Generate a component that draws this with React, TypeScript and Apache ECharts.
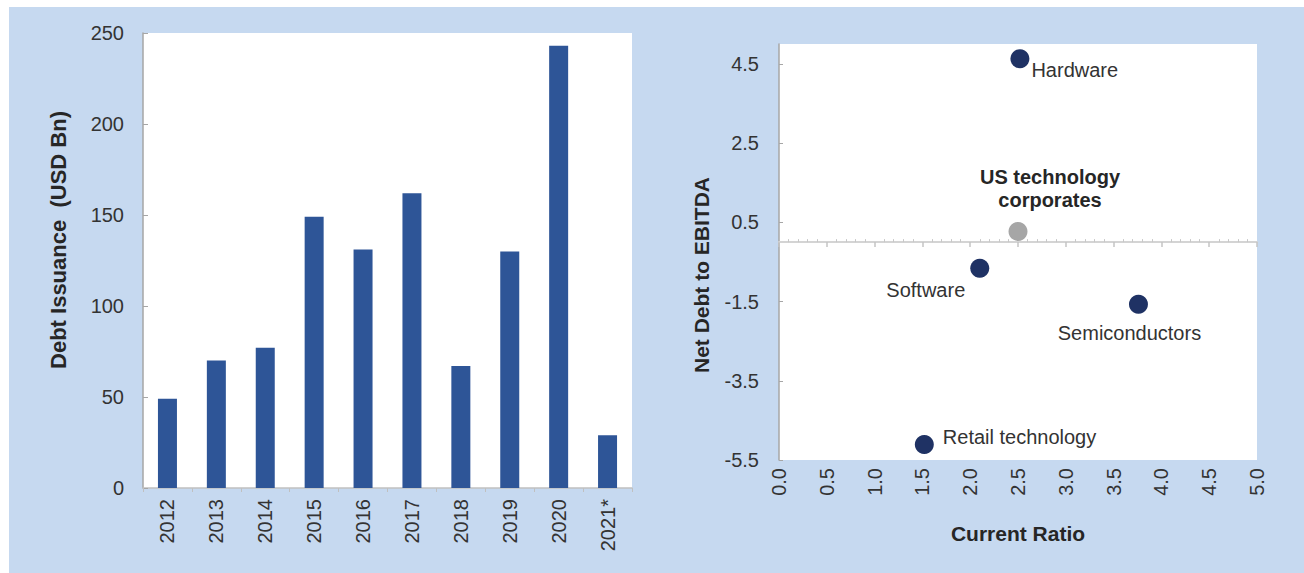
import React, { useEffect, useRef } from "react";
import * as echarts from "echarts";

// ---- data ----
const years = ["2012", "2013", "2014", "2015", "2016", "2017", "2018", "2019", "2020", "2021*"];
const debtIssuance = [49, 70, 77, 149, 131, 162, 67, 130, 243, 29];

const sectors = ["Hardware", "US technology\ncorporates", "Software", "Semiconductors", "Retail technology"];
const currentRatio = [2.52, 2.5, 2.1, 3.76, 1.52];
const netDebtToEbitda = [4.63, 0.27, -0.66, -1.57, -5.11];
const netDebtTicks = [-5.5, -3.5, -1.5, 0.5, 2.5, 4.5];

const leftAxisTitle = "Debt Issuance  (USD Bn)";
const rightAxisTitle = "Net Debt to EBITDA";

const FONT = "'Liberation Sans', Arial, sans-serif";
const TXT = "#333333";

const labelStyles: any[] = [
  { position: "right", distance: 2, offset: [0, 11], color: "#333333" },
  { position: "top", distance: 10, offset: [32, 0], color: "#262626", fontWeight: "bold", align: "center", lineHeight: 23 },
  { position: "left", distance: 5, offset: [0, 22], color: "#333333" },
  { position: "bottom", distance: 5, offset: [-9, 4], color: "#333333" },
  { position: "right", distance: 5, offset: [4, -8], color: "#333333" },
];
const markerColors = ["#1f3264", "#a6a6a6", "#1f3264", "#1f3264", "#1f3264"];

export default function App() {
  const ref = useRef<HTMLDivElement>(null);
  useEffect(() => {
    if (!ref.current) return;
    const chart = echarts.init(ref.current, null, { renderer: "svg" });
    const scatterData = sectors.map((name, i) => ({
      name,
      value: [currentRatio[i], netDebtToEbitda[i]],
      itemStyle: { color: markerColors[i], opacity: 1 },
      label: { show: true, formatter: name, fontSize: 20, fontFamily: FONT, ...labelStyles[i] },
    }));
    const nameStyle = { fontSize: 21, fontWeight: "bold", fill: "#262626", fontFamily: FONT, align: "center", verticalAlign: "middle" };
    chart.setOption({
      animation: false,
      textStyle: { fontFamily: FONT },
      graphic: [
        { type: "text", x: 58, y: 240, rotation: Math.PI / 2, style: { text: leftAxisTitle, ...nameStyle, fontSize: 22 } },
        { type: "text", x: 701, y: 275, rotation: Math.PI / 2, style: { text: rightAxisTitle, ...nameStyle } },
      ],
      grid: [
        { left: 143, top: 33, width: 489, height: 455, show: true, backgroundColor: "#ffffff", borderWidth: 0 },
        { left: 779, top: 44, width: 478, height: 416, show: true, backgroundColor: "#ffffff", borderWidth: 0 },
      ],
      xAxis: [
        {
          type: "category",
          gridIndex: 0,
          data: years,
          axisLine: { lineStyle: { color: "#c0c0c0", width: 1.5 } },
          axisTick: { show: true, alignWithLabel: false, length: 4, lineStyle: { color: "#c0c0c0" } },
          axisLabel: { rotate: 90, margin: 11, fontSize: 20, color: TXT, fontFamily: FONT },
        },
        {
          type: "value",
          gridIndex: 1,
          position: "bottom",
          min: 0,
          max: 5,
          interval: 0.5,
          axisLine: { show: false, onZero: false },
          axisTick: { show: false },
          splitLine: { show: false },
          name: "Current Ratio",
          nameLocation: "middle",
          nameGap: 63,
          nameTextStyle: { fontSize: 21, fontWeight: "bold", color: "#262626", fontFamily: FONT },
          axisLabel: {
            rotate: 90,
            margin: 8,
            fontSize: 20,
            color: TXT,
            fontFamily: FONT,
            formatter: (v: number) => v.toFixed(1),
          },
        },
        {
          type: "value",
          gridIndex: 1,
          position: "bottom",
          min: 0,
          max: 5,
          interval: 0.5,
          axisLine: { show: true, onZero: true, onZeroAxisIndex: 1, lineStyle: { color: "#d4d4d4", width: 2 } },
          axisTick: { show: true, length: 5, lineStyle: { color: "#c4c4c4", width: 1.5 } },
          axisLabel: { show: false },
          splitLine: { show: false },
        },
        {
          type: "value",
          gridIndex: 1,
          position: "bottom",
          min: 0,
          max: 5,
          interval: 0.5,
          axisLine: { show: false, onZero: true, onZeroAxisIndex: 1 },
          axisTick: { show: false, inside: true },
          minorTick: { show: true, splitNumber: 5, length: 3, lineStyle: { color: "#c8c8c8", width: 1 } },
          axisLabel: { show: false },
          splitLine: { show: false },
        },
      ],
      yAxis: [
        {
          type: "value",
          gridIndex: 0,
          min: 0,
          max: 250,
          interval: 50,
          axisLine: { show: true, lineStyle: { color: "#a6a6a6", width: 1.5 } },
          axisTick: { show: true, inside: true, length: 5, lineStyle: { color: "#a6a6a6" } },
          splitLine: { show: false },
          axisLabel: { margin: 19, fontSize: 20, color: TXT, fontFamily: FONT },
        },
        {
          type: "value",
          gridIndex: 1,
          min: -5.5,
          max: 5,
          axisLine: { show: true, onZero: false, lineStyle: { color: "#a6a6a6", width: 1.5 } },
          axisTick: { show: true, inside: true, length: 4, customValues: netDebtTicks, lineStyle: { color: "#a6a6a6" } },
          splitLine: { show: false },
          axisLabel: {
            margin: 20,
            fontSize: 20,
            color: TXT,
            fontFamily: FONT,
            customValues: netDebtTicks,
            formatter: (v: number) => v.toFixed(1),
          },
        },
      ],
      series: [
        {
          type: "bar",
          xAxisIndex: 0,
          yAxisIndex: 0,
          data: debtIssuance,
          barWidth: 19,
          itemStyle: { color: "#2e5597" },
        },
        {
          type: "scatter",
          xAxisIndex: 1,
          yAxisIndex: 1,
          symbolSize: 19,
          data: scatterData,
          z: 5,
        },
      ],
    });
    return () => chart.dispose();
  }, []);

  return (
    <div style={{ position: "fixed", left: 0, top: 0, width: 1304, height: 573, background: "#ffffff" }}>
      <div style={{ position: "absolute", left: 9, top: 7, right: 0, bottom: 0, background: "#c6d9f0" }} />
      <div ref={ref} style={{ position: "absolute", left: 0, top: 0, width: 1304, height: 573 }} />
    </div>
  );
}
